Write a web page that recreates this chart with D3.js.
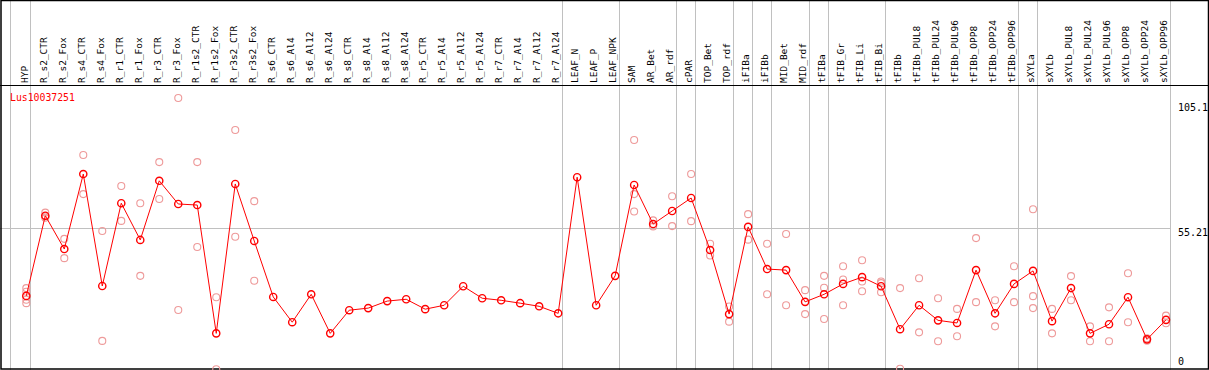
<!DOCTYPE html>
<html>
<head>
<meta charset="utf-8">
<script src="https://cdn.jsdelivr.net/npm/d3@7"></script>
<style>
  body { margin: 0; background: #fff; }
  text { font-family: "DejaVu Sans Mono", "Liberation Mono", monospace; }
</style>
</head>
<body>
<div id="chart"></div>
<script>
var geneName = "Lus10037251";

var samples = ["HYP", "R_s2_CTR", "R_s2_Fox", "R_s4_CTR", "R_s4_Fox", "R_r1_CTR", "R_r1_Fox",
  "R_r3_CTR", "R_r3_Fox", "R_r1s2_CTR", "R_r1s2_Fox", "R_r3s2_CTR", "R_r3s2_Fox", "R_s6_CTR",
  "R_s6_Al4", "R_s6_Al12", "R_s6_Al24", "R_s8_CTR", "R_s8_Al4", "R_s8_Al12", "R_s8_Al24",
  "R_r5_CTR", "R_r5_Al4", "R_r5_Al12", "R_r5_Al24", "R_r7_CTR", "R_r7_Al4", "R_r7_Al12", "R_r7_Al24",
  "LEAF_N", "LEAF_P", "LEAF_NPK", "SAM", "AR_Bet", "AR_rdf", "cPAR", "TOP_Bet", "TOP_rdf",
  "iFIBa", "iFIBb", "MID_Bet", "MID_rdf", "tFIBa", "tFIB_Gr", "tFIB_Li", "tFIB_Bi", "tFIBb",
  "tFIBb_PUL8", "tFIBb_PUL24", "tFIBb_PUL96", "tFIBb_OPP8", "tFIBb_OPP24", "tFIBb_OPP96",
  "sXYLa", "sXYLb", "sXYLb_PUL8", "sXYLb_PUL24", "sXYLb_PUL96", "sXYLb_OPP8", "sXYLb_OPP24", "sXYLb_OPP96"];

// mean expression per sample
var means = [29.2, 60.0, 47.2, 76.0, 33.0, 64.8, 50.7, 73.4, 64.5, 64.1, 14.8, 72.2, 50.3, 28.8,
  19.1, 29.8, 14.8, 23.7, 24.5, 27.2, 27.9, 24.1, 25.6, 32.9, 28.3, 27.5, 26.4, 25.2, 22.5,
  74.8, 25.6, 36.9, 71.8, 56.8, 61.8, 66.8, 46.8, 22.2, 55.7, 39.5, 39.1, 26.9, 29.8, 33.8, 36.4, 32.9,
  16.4, 25.6, 19.8, 18.8, 39.1, 22.5, 33.8, 38.8, 19.5, 32.2, 14.8, 18.3, 28.7, 12.5, 20.0];

// individual replicates per sample (empty where none are shown)
var replicates = [
  [32.2, 30.8, 27.7, 26.4], [61.2, 59.7, 59.2], [51.1, 43.7], [83.3, 68.3], [54.1, 11.9],
  [71.4, 58.0], [64.8, 36.9], [80.6, 66.4], [105.2, 23.8], [80.6, 48.0], [28.7, 1.0],
  [92.9, 51.9], [65.6, 35.0], [], [], [], [], [], [], [], [], [], [], [], [], [], [], [], [],
  [], [], [], [89.1, 68.3, 61.6], [58.2, 55.9], [67.5, 56.0], [76.0, 57.9], [49.2, 44.7],
  [25.1, 19.3], [60.6, 50.8], [49.2, 29.8], [53.0, 25.6], [31.4, 22.2], [36.9, 32.3, 20.3],
  [40.6, 35.5, 25.6], [42.9, 34.7, 31.0], [34.7, 34.1, 30.6], [32.2, 1.2],
  [36.0, 15.2], [28.3, 11.8], [24.2, 13.7], [51.4, 26.8], [27.5, 17.5], [40.6, 26.8],
  [62.5, 29.1, 24.5], [24.2, 14.8], [36.8, 27.5], [17.5, 11.8], [24.8, 11.8], [37.9, 19.1],
  [12.9, 12.0], [21.6, 18.7]];

// a grey separator is drawn after each of these samples
var groupEnds = ["HYP", "R_r7_Al24", "LEAF_NPK", "AR_rdf", "cPAR", "TOP_rdf", "iFIBa", "iFIBb",
  "MID_rdf", "tFIBa", "tFIB_Bi", "tFIBb_OPP96", "sXYLa", "sXYLb_OPP96"];

var yTicks = [105.1, 55.21, 0];
var gridValues = [55.21];

var width = 1209, height = 370;
var headerBottom = 85, plotRight = 1170.5;

var svg = d3.select("#chart").append("svg")
  .attr("width", width)
  .attr("height", height);

svg.append("rect").attr("width", width).attr("height", height).attr("fill", "#fff");

var x = d3.scalePoint()
  .domain(samples)
  .range([26.3, 1166]);

var y = d3.scaleLinear()
  .domain([0, 105.1])
  .range([371.9, 98.3]);

var crisp = v => Math.floor(v) + 0.5;

// vertical separators
var sepX = [x(samples[0]) - 15.6].concat(groupEnds.map(d => x(d) + 4.4));
svg.append("g").selectAll("line")
  .data(sepX)
  .enter().append("line")
  .attr("x1", d => crisp(d)).attr("x2", d => crisp(d))
  .attr("y1", 0).attr("y2", height)
  .attr("stroke", "#c0c0c0").attr("stroke-width", 1)
  .attr("shape-rendering", "crispEdges");

// horizontal grid
svg.append("g").selectAll("line")
  .data(gridValues)
  .enter().append("line")
  .attr("x1", 0).attr("x2", plotRight)
  .attr("y1", d => crisp(y(d))).attr("y2", d => crisp(y(d)))
  .attr("stroke", "#c0c0c0").attr("stroke-width", 1)
  .attr("shape-rendering", "crispEdges");

// frame
svg.append("rect")
  .attr("x", 1).attr("y", 0.5)
  .attr("width", width - 1.5).attr("height", height - 1.5)
  .attr("fill", "none").attr("stroke", "#000").attr("stroke-width", 1.5);
svg.append("line")
  .attr("x1", 0).attr("x2", width)
  .attr("y1", headerBottom + 0.5).attr("y2", headerBottom + 0.5)
  .attr("stroke", "#000").attr("stroke-width", 1.2);

// column labels
svg.append("g").selectAll("text")
  .data(samples)
  .enter().append("text")
  .attr("transform", d => `translate(${x(d) + 1.3},${headerBottom - 2}) rotate(-90)`)
  .attr("font-size", "9.5px")
  .attr("fill", "#000")
  .text(d => d);

// y labels on the right
svg.append("g").selectAll("text")
  .data(yTicks)
  .enter().append("text")
  .attr("x", 1178)
  .attr("y", d => Math.max(107.7, Math.min(361.7, y(d) + 4)))
  .attr("dominant-baseline", "central")
  .attr("font-size", "10px")
  .attr("fill", "#000")
  .text(d => d);

// gene name
svg.append("text")
  .attr("x", 10).attr("y", 97.7)
  .attr("dominant-baseline", "central")
  .attr("font-size", "9.8px")
  .attr("fill", "red")
  .text(geneName);

// replicate points
var reps = [];
replicates.forEach((arr, i) => arr.forEach(v => reps.push({ s: samples[i], v: v })));
svg.append("g").selectAll("circle")
  .data(reps)
  .enter().append("circle")
  .attr("cx", d => x(d.s))
  .attr("cy", d => y(d.v))
  .attr("r", 3.5)
  .attr("fill", "none")
  .attr("stroke", "#ee9a9a")
  .attr("stroke-width", 1.1);

// mean line
var line = d3.line()
  .x((d, i) => x(samples[i]))
  .y(d => y(d));
svg.append("path")
  .datum(means)
  .attr("d", line)
  .attr("fill", "none")
  .attr("stroke", "red")
  .attr("stroke-width", 1);

svg.append("g").selectAll("circle")
  .data(means)
  .enter().append("circle")
  .attr("cx", (d, i) => x(samples[i]))
  .attr("cy", d => y(d))
  .attr("r", 3.6)
  .attr("fill", "none")
  .attr("stroke", "red")
  .attr("stroke-width", 1.4);
</script>
</body>
</html>
